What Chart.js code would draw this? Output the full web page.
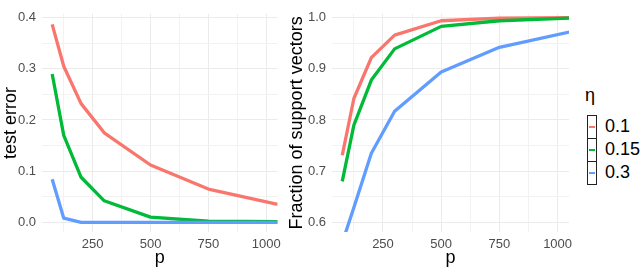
<!DOCTYPE html>
<html>
<head>
<meta charset="utf-8">
<script src="https://cdn.jsdelivr.net/npm/chart.js@4.4.1/dist/chart.umd.min.js"></script>
<style>
    body { margin: 0; width: 640px; height: 270px; background: #fff; position: relative; overflow: hidden;
           font-family: "Liberation Sans", Arial, sans-serif; }
    canvas { position: absolute; top: 0; }
    #errChart { left: 0; }
    #svChart { left: 286px; }
    #legend-title { position: absolute; left: 585px; top: 85px; font-size: 18px; line-height: 21px; color: #000; }
    .key { position: absolute; left: 587px; width: 8px; height: 22px; border: 1px solid #222; box-sizing: content-box; }
    .key span { position: absolute; left: 1px; width: 6px; height: 2px; top: 10px; }
    .lab { position: absolute; left: 605px; font-size: 18px; line-height: 21px; color: #000; }
</style>
</head>
<body>
<canvas id="errChart" width="286" height="270"></canvas>
<canvas id="svChart" width="294" height="270"></canvas>
<div id="legend"></div>

<script>
// p values (x)
const pValues = [75, 125, 200, 300, 500, 750, 1050];
const etaLabels = ['0.1', '0.15', '0.3'];

// test error per eta
const errEta01 = [0.387, 0.305, 0.232, 0.175, 0.112, 0.065, 0.035];
const errEta015 = [0.290, 0.170, 0.088, 0.042, 0.010, 0.002, 0.001];
const errEta03 = [0.084, 0.008, 0.000, 0.000, 0.000, 0.000, 0.000];

// fraction of support vectors per eta
const svEta01 = [0.731, 0.842, 0.922, 0.966, 0.994, 0.999, 1.000];
const svEta015 = [0.680, 0.790, 0.878, 0.939, 0.983, 0.994, 0.999];
const svEta03 = [0.560, 0.629, 0.735, 0.817, 0.894, 0.942, 0.972];

const xTicks = [125, 250, 375, 500, 625, 750, 875, 1000];
const errTicks = [0, 0.05, 0.1, 0.15, 0.2, 0.25, 0.3, 0.35, 0.4];
const svTicks = [0.6, 0.65, 0.7, 0.75, 0.8, 0.85, 0.9, 0.95, 1.0];

const colors = ['#F8766D', '#00BA38', '#619CFF'];
const majorGrid = '#ebebeb';
const minorGrid = '#f2f2f2';

function toPoints(ys) {
    return ys.map((y, i) => ({ x: pValues[i], y }));
}

function makeDatasets(series) {
    // ggplot draws later groups on top -> lower order in chart.js
    return series.map((ys, i) => ({
        label: etaLabels[i],
        data: toPoints(ys),
        borderColor: colors[i],
        borderWidth: 3.3,
        pointRadius: 0,
        tension: 0,
        fill: false,
        clip: 0,
        borderJoinStyle: 'round',
        order: series.length - i
    }));
}

function makeOptions(yMin, yMax, yTicks, yTitle, yWidth, padRight) {
    return {
        responsive: false,
        animation: false,
        layout: { padding: { top: 8, right: padRight, bottom: 0, left: 0 } },
        plugins: { legend: { display: false }, tooltip: { enabled: false } },
        scales: {
            x: {
                type: 'linear',
                min: 31,
                max: 1049,
                afterBuildTicks: s => { s.ticks = xTicks.map(v => ({ value: v })); },
                afterFit: s => { s.height = 38; },
                border: { display: false },
                grid: {
                    drawTicks: false,
                    color: c => (c.tick && c.tick.value % 250 === 0) ? majorGrid : minorGrid,
                    lineWidth: 1
                },
                ticks: {
                    autoSkip: false,
                    maxRotation: 0,
                    padding: 5,
                    color: '#4d4d4d',
                    font: { family: 'Liberation Sans', size: 13 },
                    callback: v => v % 250 === 0 ? String(v) : ''
                },
                title: {
                    display: true,
                    text: 'p',
                    color: '#000',
                    font: { family: 'Liberation Sans', size: 18 },
                    padding: { top: 0, bottom: 1 }
                }
            },
            y: {
                min: yMin,
                max: yMax,
                afterBuildTicks: s => { s.ticks = yTicks.map(v => ({ value: v })); },
                afterFit: s => { s.width = yWidth; },
                border: { display: false },
                grid: {
                    drawTicks: false,
                    color: c => (c.tick && Math.round(c.tick.value * 100) % 10 === 0) ? majorGrid : minorGrid,
                    lineWidth: 1
                },
                ticks: {
                    autoSkip: false,
                    padding: 6,
                    color: '#4d4d4d',
                    font: { family: 'Liberation Sans', size: 13 },
                    callback: v => Math.round(v * 100) % 10 === 0 ? v.toFixed(1) : ''
                },
                title: {
                    display: true,
                    text: yTitle,
                    color: '#000',
                    font: { family: 'Liberation Sans', size: 18 },
                    padding: 0
                }
            }
        }
    };
}

new Chart(document.getElementById('errChart'), {
    type: 'line',
    data: { datasets: makeDatasets([errEta01, errEta015, errEta03]) },
    options: makeOptions(-0.019, 0.4076, errTicks, 'test error', 42, 7)
});

new Chart(document.getElementById('svChart'), {
    type: 'line',
    data: { datasets: makeDatasets([svEta01, svEta015, svEta03]) },
    options: makeOptions(0.581, 1.0076, svTicks, 'Fraction of support vectors', 46, 11)
});

// legend (η)
const legend = document.getElementById('legend');
legend.innerHTML = '<div id="legend-title">η</div>';
const keyTops = [115, 138, 161];
etaLabels.forEach((lab, i) => {
    legend.innerHTML += `
        <div class="key" style="top:${keyTops[i]}px"><span style="background:${colors[i]}"></span></div>
        <div class="lab" style="top:${keyTops[i] + 1}px">${lab}</div>
    `;
});
</script>
</body>
</html>
